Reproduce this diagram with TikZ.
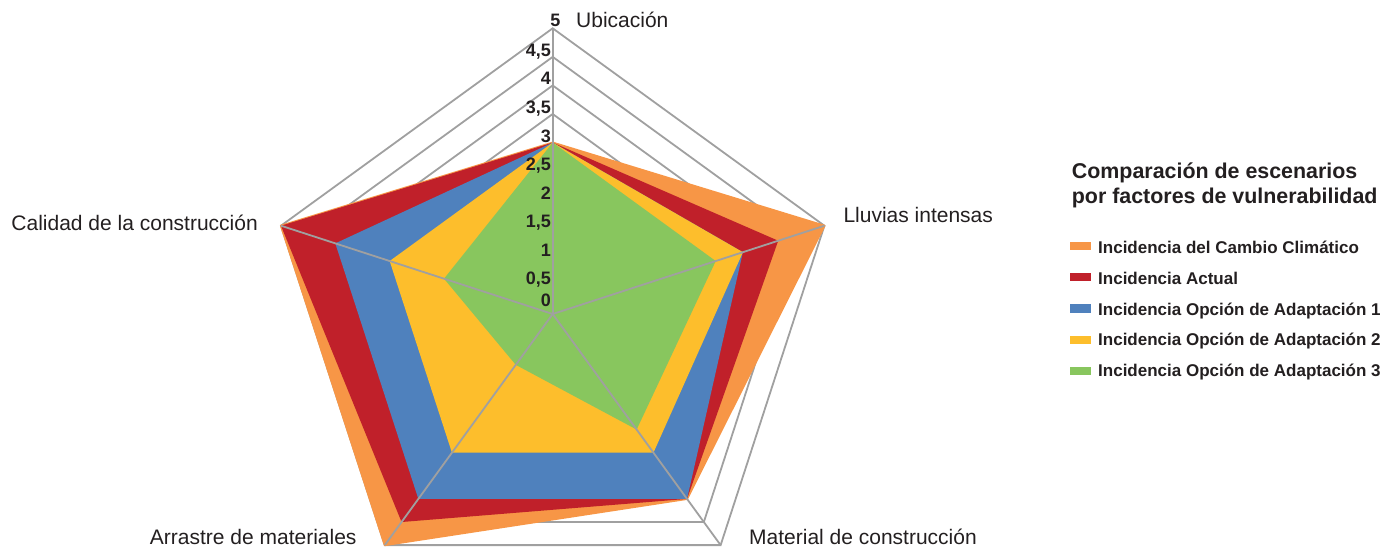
\documentclass[tikz,border=0pt]{standalone}
\usepackage{fontspec}
\setmainfont{Liberation Sans}
\usepackage{xcolor}
\usetikzlibrary{positioning}

\definecolor{serieorange}{HTML}{F79646}
\definecolor{seriered}{HTML}{C0202A}
\definecolor{serieblue}{HTML}{4F81BD}
\definecolor{serieyellow}{HTML}{FDBE2C}
\definecolor{seriegreen}{HTML}{88C65E}
\definecolor{gridgray}{HTML}{A0A0A0}
\definecolor{textdark}{HTML}{231F20}

% one unit of the radial scale
\newcommand{\ru}{57.14}
% filled series: style, Ubicacion, Lluvias, Material, Arrastre, Calidad
\newcommand{\radarfill}[6]{%
    \fill[#1] (90:{#2*\ru}) -- (18:{#3*\ru}) -- (-54:{#4*\ru}) -- (-126:{#5*\ru}) -- (162:{#6*\ru}) -- cycle;}

\tikzset{
    gridline/.style={draw=gridgray, line width=1.8pt},
    axislabel/.style={font=\fontsize{21}{25}\selectfont, text=textdark, inner sep=0pt},
    ticklabel/.style={font=\bfseries\fontsize{18}{21}\selectfont, text=textdark, inner sep=0pt, anchor=base east},
    legendtitle/.style={font=\bfseries\fontsize{21.4}{25}\selectfont, text=textdark, inner sep=0pt, anchor=base west},
    legendtext/.style={font=\bfseries\fontsize{17}{20}\selectfont, text=textdark, inner sep=0pt, anchor=base west},
    legendkey/.style={minimum width=21pt, minimum height=8.3pt, inner sep=0pt, anchor=west},
}

\begin{document}
\begin{tikzpicture}[x=1pt,y=1pt]
    \useasboundingbox (-552.7,-233) rectangle (831.3,314);

    % Centre and axis ends
    \coordinate (center) at (0,0);
    \foreach \a/\n in {90/ubi,18/llu,-54/mat,-126/arr,162/cal} {
        \coordinate (\n) at (\a:{5*\ru});
    }

    % Rings
    \foreach \r in {0.5,1,...,5} {
        \draw[gridline] (90:{\r*\ru}) -- (18:{\r*\ru}) -- (-54:{\r*\ru}) -- (-126:{\r*\ru}) -- (162:{\r*\ru}) -- cycle;
    }

    % Series
    \radarfill{serieorange, draw=serieorange, line width=2pt, line join=round}{3}{5}{4}{5}{5}
    \radarfill{seriered}{3}{4.15}{4}{4.5}{5}
    \radarfill{serieblue}{3}{3.5}{4}{4}{4}
    \radarfill{serieyellow}{3}{3.5}{3}{3}{3}
    \radarfill{seriegreen}{3}{3}{2.5}{1.1}{2}

    % Spokes
    \foreach \n in {ubi,llu,mat,arr,cal} {
        \draw[gridline] (center) -- (\n);
    }

    % Scale
    \foreach \i/\t in {1/{0,5},2/1,3/{1,5},4/2,5/{2,5},6/3,7/{3,5},8/4,9/{4,5}} {
        \node[ticklabel] (tick\i) at (-1.7, {\i*\ru/2+0.5}) {\t};
    }
    \node[ticklabel] (tick0) at (-1.7, 7.3) {0};
    \node[ticklabel, anchor=base] (tick10) at (2.8, 288) {5};

    % Axis labels
    \node[axislabel, anchor=base west] (labubi) at (23.3, 286.7) {Ubicación};
    \node[axislabel, anchor=base west] (labllu) at (290.6, 91.7) {Lluvias intensas};
    \node[axislabel, anchor=base west] (labmat) at (196.3, -230.3) {Material de construcción};
    \node[axislabel, anchor=base east] (labarr) at (-196, -230.3) {Arrastre de materiales};
    \node[axislabel, anchor=base east] (labcal) at (-294.7, 84) {Calidad de la construcción};

    % Legend
    \node[legendtitle] (legtitle) at (519, 135.7) {Comparación de escenarios};
    \node[legendtitle] (legtitleb) at (519, 110.7) {por factores de vulnerabilidad};
    \foreach \i/\c/\t in {0/serieorange/Incidencia del Cambio Climático,
                          1/seriered/Incidencia Actual,
                          2/serieblue/Incidencia Opción de Adaptación 1,
                          3/serieyellow/Incidencia Opción de Adaptación 2,
                          4/seriegreen/Incidencia Opción de Adaptación 3} {
        \node[legendkey, fill=\c] (key\i) at (517.3, {68-\i*31.25}) {};
        \node[legendtext] (leg\i) at (545.3, {60.7-\i*30.85}) {\t};
    }
\end{tikzpicture}
\end{document}
